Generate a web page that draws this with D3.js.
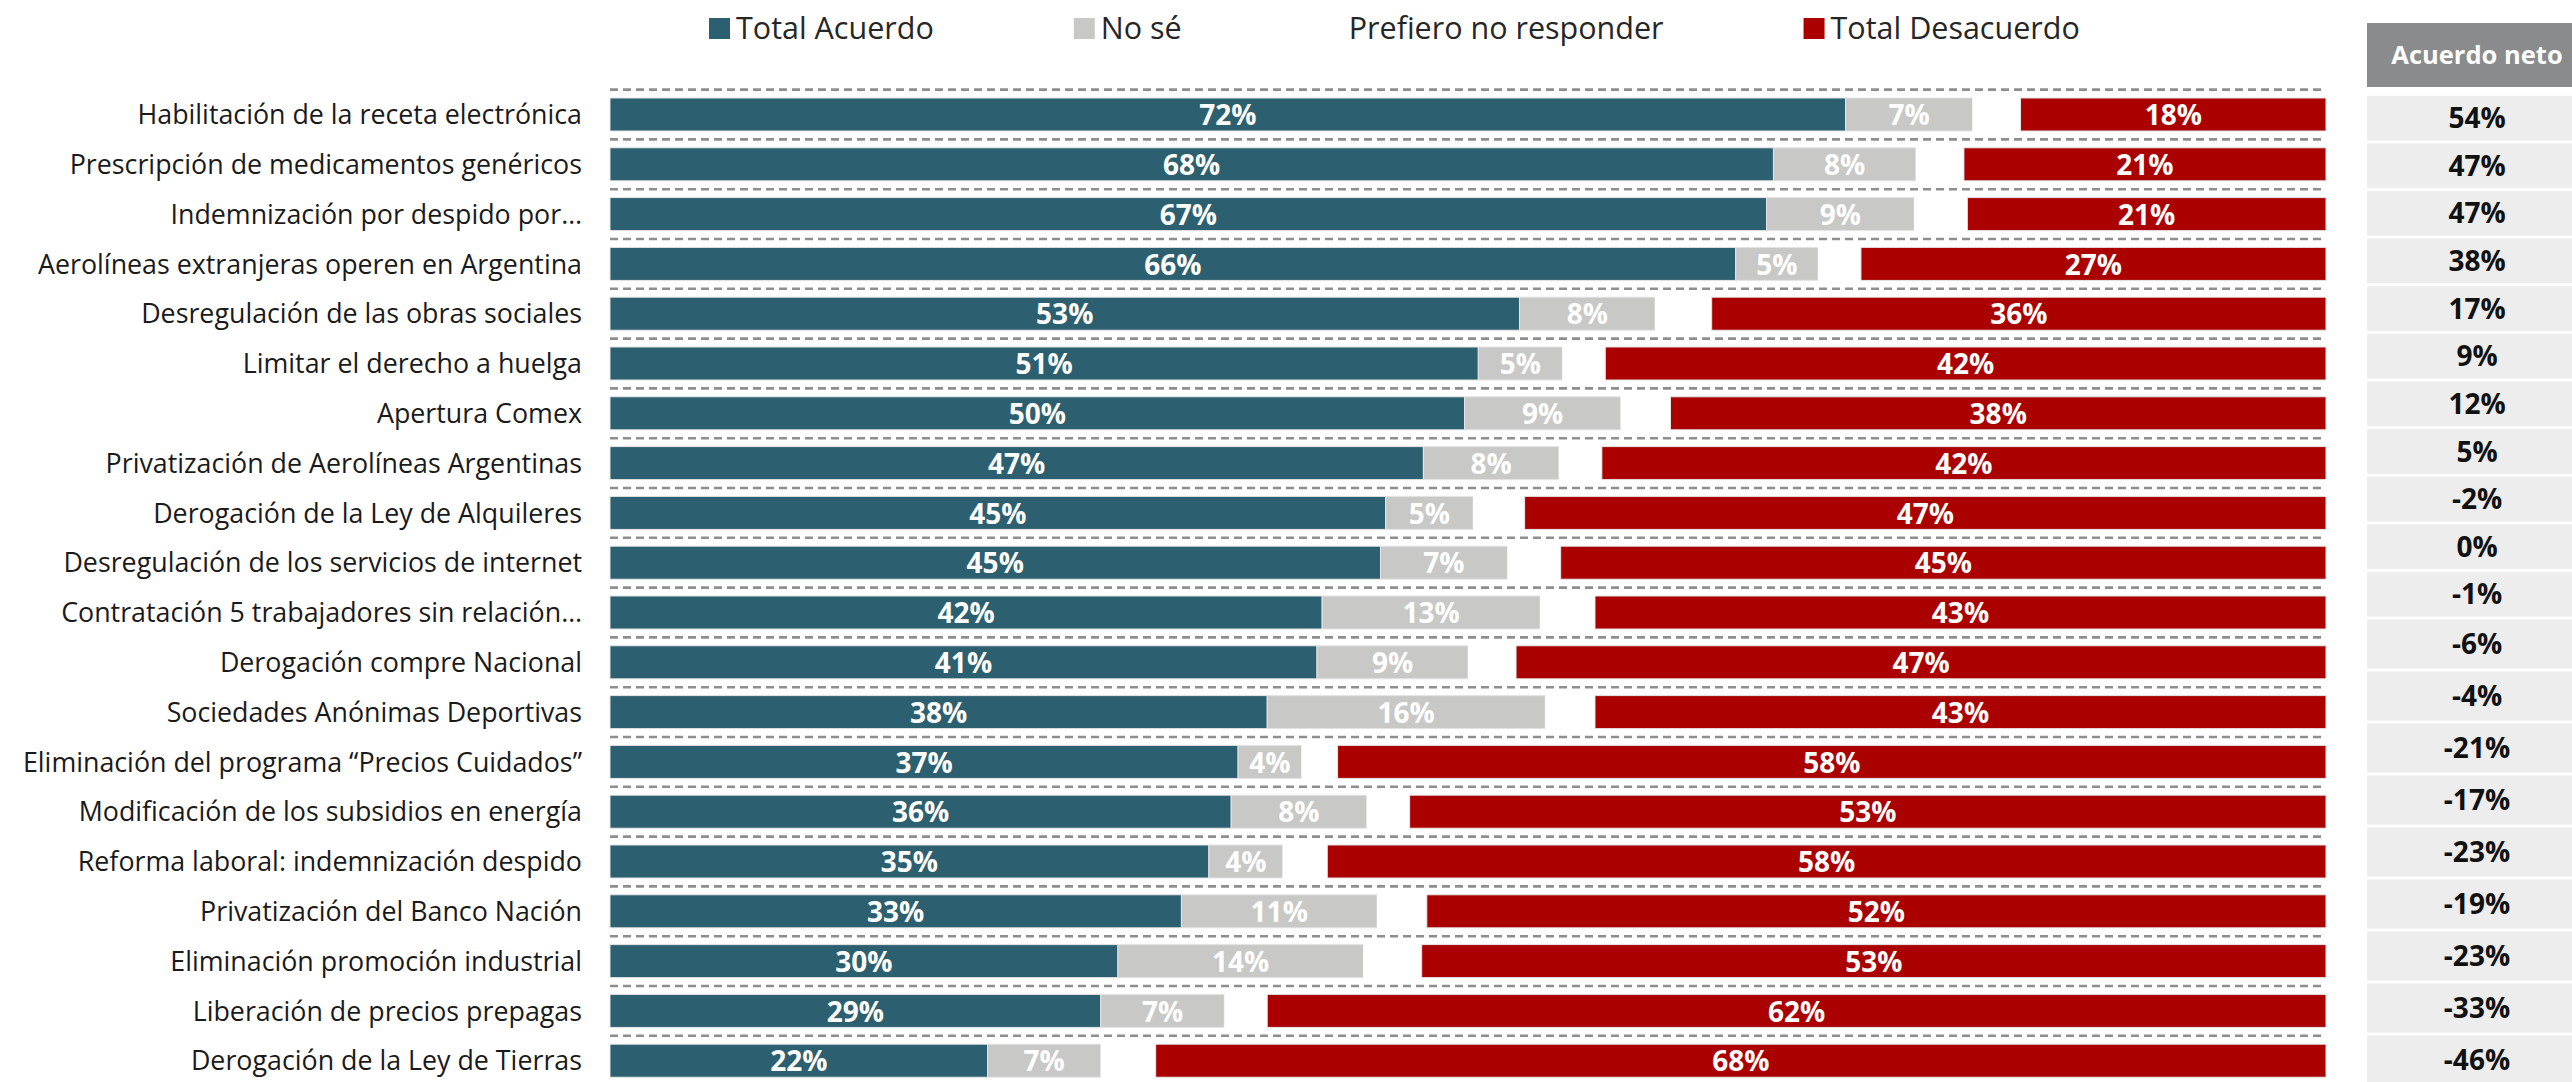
<!DOCTYPE html>
<html>
<head>
<meta charset="utf-8">
<script src="https://cdn.jsdelivr.net/npm/d3@7"></script>
<style>
  html, body { margin: 0; padding: 0; background: #ffffff; }
  svg { display: block; font-family: "Open Sans", "Noto Sans", sans-serif; }
</style>
</head>
<body>
<div class="chartDiv"></div>
<script>
(function(){
  // data (percent)
  var categories = [
    "Habilitación de la receta electrónica",
    "Prescripción de medicamentos genéricos",
    "Indemnización por despido por…",
    "Aerolíneas extranjeras operen en Argentina",
    "Desregulación de las obras sociales",
    "Limitar el derecho a huelga",
    "Apertura Comex",
    "Privatización de Aerolíneas Argentinas",
    "Derogación de la Ley de Alquileres",
    "Desregulación de los servicios de internet",
    "Contratación 5 trabajadores sin relación…",
    "Derogación compre Nacional",
    "Sociedades Anónimas Deportivas",
    "Eliminación del programa “Precios Cuidados”",
    "Modificación de los subsidios en energía",
    "Reforma laboral: indemnización despido",
    "Privatización del Banco Nación",
    "Eliminación promoción industrial",
    "Liberación de precios prepagas",
    "Derogación de la Ley de Tierras"
  ];
  var acuerdo    = [72.0, 67.8, 67.4, 65.6, 53.0, 50.6, 49.8, 47.4, 45.2, 44.9, 41.5, 41.2, 38.3, 36.6, 36.2, 34.9, 33.3, 29.6, 28.6, 22.0];
  var noSe       = [7.4, 8.3, 8.6, 4.8, 7.9, 4.9, 9.1, 7.9, 5.1, 7.4, 12.7, 8.8, 16.2, 3.7, 7.9, 4.3, 11.4, 14.3, 7.2, 6.6];
  var prefiero   = [2.8, 2.8, 3.1, 2.5, 3.3, 2.5, 2.9, 2.5, 3.0, 3.1, 3.2, 2.8, 2.9, 2.1, 2.5, 2.6, 2.9, 3.4, 2.5, 3.2];
  var desacuerdo = [17.8, 21.1, 20.9, 27.1, 35.8, 42.0, 38.2, 42.2, 46.7, 44.6, 42.6, 47.2, 42.6, 57.6, 53.4, 58.2, 52.4, 52.7, 61.7, 68.2];
  var neto       = [54, 47, 47, 38, 17, 9, 12, 5, -2, 0, -1, -6, -4, -21, -17, -23, -19, -23, -33, -46];

  var seriesNames  = ["Total Acuerdo", "No sé", "Prefiero no responder", "Total Desacuerdo"];
  var seriesColors = ["#2c5f6f", "#c8c8c6", "#ffffff", "#ab0000"];
  var seriesLabeled = [true, true, false, true];

  var width  = 2572,
      height = 1082;

  var svg = d3.select(".chartDiv").append("svg")
      .attr("width", width)
      .attr("height", height);

  //scales
  var x = d3.scaleLinear().domain([0, 100]).range([610, 2326]);
  var y = d3.scaleBand().domain(categories).range([89.6, 89.6 + 20 * 49.8])
      .paddingInner(0.337).paddingOuter(0.337 / 2);
  var gapHalf = (y.step() - y.bandwidth()) / 2;

  //stack the four series
  var rows = categories.map(function(c, i){
    return {cat: c, vals: [acuerdo[i], noSe[i], prefiero[i], desacuerdo[i]]};
  });
  var segs = [];
  rows.forEach(function(r){
    var x0 = 0;
    r.vals.forEach(function(v, k){
      segs.push({cat: r.cat, k: k, x0: x0, x1: x0 + v, v: v});
      x0 += v;
    });
  });

  //dashed separators
  svg.append("g").selectAll("line").data(categories).enter().append("line")
      .attr("x1", x(0)).attr("x2", x(100))
      .attr("y1", function(d){ return y(d) - gapHalf; })
      .attr("y2", function(d){ return y(d) - gapHalf; })
      .attr("stroke", "#8e8e8e").attr("stroke-width", 2.6)
      .attr("stroke-dasharray", "8,5");

  //bars
  svg.append("g").selectAll("rect").data(segs).enter().append("rect")
      .attr("x", function(d){ return x(d.x0); })
      .attr("width", function(d){ return x(d.x1) - x(d.x0); })
      .attr("y", function(d){ return y(d.cat); })
      .attr("height", y.bandwidth())
      .attr("fill", function(d){ return seriesColors[d.k]; })
      .attr("stroke", function(d){ return d.k === 2 ? "none" : "#e4e4e4"; })
      .attr("stroke-width", 1);

  //bar labels
  svg.append("g").selectAll("text").data(segs.filter(function(d){ return seriesLabeled[d.k]; }))
    .enter().append("text")
      .attr("x", function(d){ return (x(d.x0) + x(d.x1)) / 2; })
      .attr("y", function(d){ return y(d.cat) + y.bandwidth() / 2; })
      .attr("dy", "0.38em")
      .attr("text-anchor", "middle")
      .attr("fill", "#ffffff")
      .attr("font-weight", "bold")
      .attr("font-size", 28)
      .text(function(d){ return Math.round(d.v) + "%"; });

  //category labels
  svg.append("g").selectAll("text").data(categories).enter().append("text")
      .attr("x", 582)
      .attr("y", function(d){ return y(d) + y.bandwidth() / 2; })
      .attr("dy", "0.36em")
      .attr("text-anchor", "end")
      .attr("fill", "#1a1a1a")
      .attr("font-size", 26.8)
      .text(function(d){ return d; });

  //legend (flowed left to right)
  var legend = svg.append("g");
  var lx = 709;
  seriesNames.forEach(function(name, k){
    var item = legend.append("g").attr("transform", "translate(" + lx + ",0)");
    item.append("rect").attr("x", 0).attr("y", 18).attr("width", 21).attr("height", 21)
        .attr("fill", seriesColors[k]);
    var t = item.append("text").attr("x", 27).attr("y", 28).attr("dy", "0.36em")
        .attr("font-size", 30.5).attr("fill", "#262626").text(name);
    lx += 27 + t.node().getComputedTextLength() + 140;
  });

  //net agreement table
  var tableX = 2367, tableW = 220, tableMid = 2477;
  var ty = d3.scaleLinear().domain([0, 11, 20]).range([95.7, 619.5, 1087.5]);
  svg.append("rect").attr("x", tableX).attr("y", 23).attr("width", tableW).attr("height", 64)
      .attr("fill", "#898b8d");
  svg.append("text").attr("x", tableMid).attr("y", 55).attr("dy", "0.36em")
      .attr("text-anchor", "middle").attr("fill", "#ffffff")
      .attr("font-weight", "bold").attr("font-size", 25.5)
      .text("Acuerdo neto");

  var cells = svg.append("g").selectAll("g").data(neto).enter().append("g");
  cells.append("rect")
      .attr("x", tableX)
      .attr("y", function(d, i){ return ty(i); })
      .attr("width", tableW)
      .attr("height", function(d, i){ return ty(i + 1) - ty(i) - 2.8; })
      .attr("fill", "#ecedec");
  cells.append("text")
      .attr("x", tableMid)
      .attr("y", function(d, i){ return (ty(i) + ty(i + 1) - 2.8) / 2; })
      .attr("dy", "0.36em")
      .attr("text-anchor", "middle")
      .attr("fill", "#111111")
      .attr("font-weight", "bold")
      .attr("font-size", 28)
      .text(function(d){ return d + "%"; });
})()
</script>
</body>
</html>
